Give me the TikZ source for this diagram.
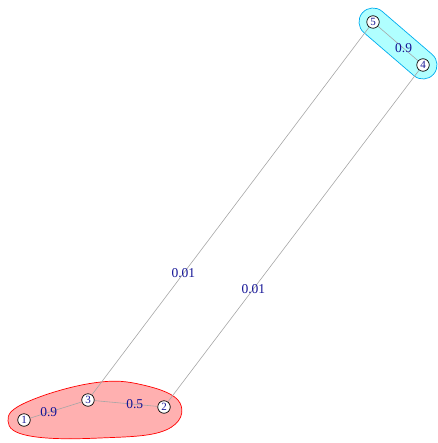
\documentclass[tikz,border=0pt]{standalone}
\usepackage{fontspec}
\setmainfont{Liberation Serif}
\definecolor{vblue}{RGB}{20,20,150}
\definecolor{redfill}{RGB}{255,176,176}
\definecolor{cyanfill}{RGB}{176,255,255}
\tikzset{
  vertex/.style={circle,draw=black,fill=white,inner sep=0pt,minimum size=12.5pt,line width=0.7pt,font=\fontsize{11}{11}\selectfont,text=vblue},
  edge/.style={draw=gray!70,line width=0.6pt},
  weight/.style={font=\fontsize{13.5}{13.5}\selectfont,text=vblue}
}
\begin{document}
\begin{tikzpicture}[x=1pt,y=-1pt]
      \useasboundingbox (0,0) rectangle (437,443);
      % groups
      \filldraw[draw=red,fill=redfill,line width=0.7pt] plot[smooth cycle,tension=0.7] coordinates
        {(8,421) (27,402) (93,383) (143,385) (180,403) (166,430) (100,438) (30,436)};
      \node[draw=cyan,fill=cyanfill,line width=0.7pt,rounded corners=14pt,minimum width=94pt,minimum height=28pt,rotate=-40.7] at (398,43.5) {};
      \node[vertex] at (24, 420)  (v1) {1};
      \node[vertex] at (164, 407) (v2) {2};
      \node[vertex] at (88, 400)  (v3) {3};
      \node[vertex] at (423, 65)  (v4) {4};
      \node[vertex] at (373, 22)  (v5) {5};
      \path[edge] (v1) -- node[weight,pos=0.36] {0.9} (v3);
      \path[edge] (v3) -- node[weight,pos=0.64] {0.5} (v2);
      \path[edge] (v5) -- node[weight,pos=0.64] {0.9} (v4);
      \path[edge] (v3) -- node[weight,pos=0.33] {0.01} (v5);
      \path[edge] (v2) -- node[weight,pos=0.34] {0.01} (v4);
    \end{tikzpicture}
\end{document}
